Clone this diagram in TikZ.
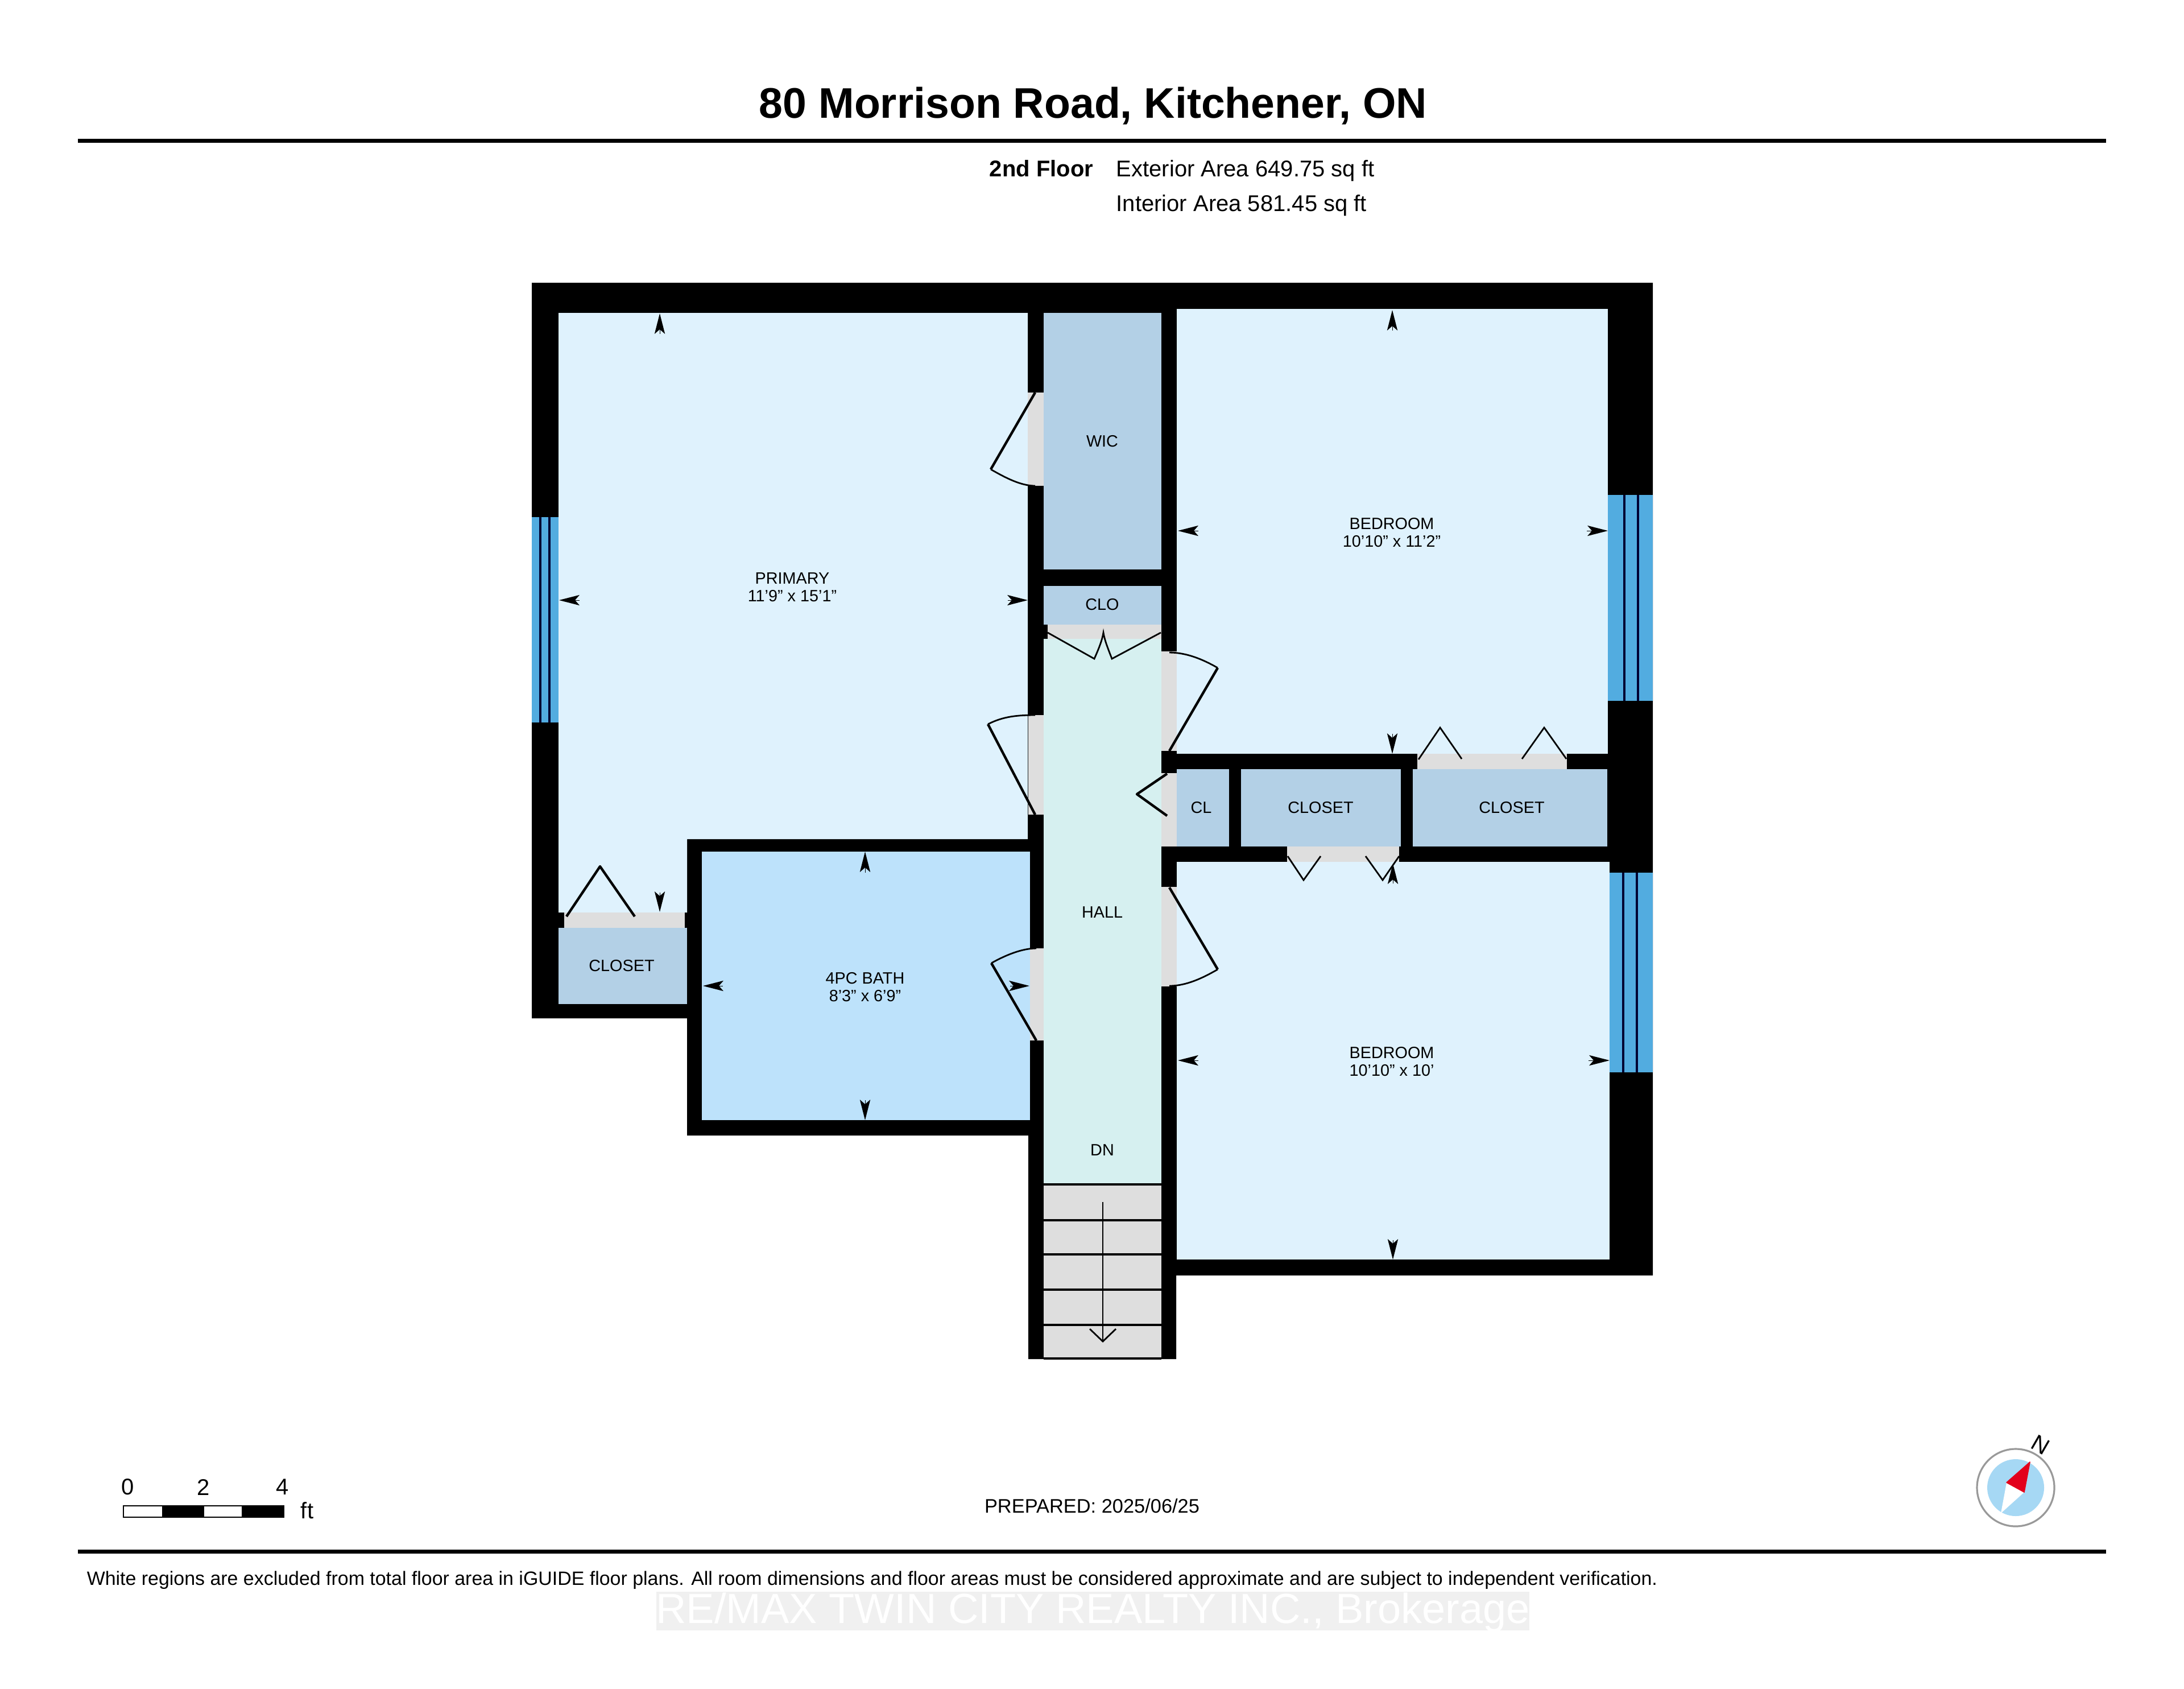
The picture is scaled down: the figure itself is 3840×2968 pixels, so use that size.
\documentclass[tikz,border=0pt]{standalone}
\usepackage{fontspec}
\setmainfont{Liberation Sans}
\usetikzlibrary{arrows.meta}
\definecolor{roomblue}{HTML}{DFF2FD}
\definecolor{closetblue}{HTML}{B3D0E6}
\definecolor{hallgreen}{HTML}{D6F0F0}
\definecolor{bathblue}{HTML}{BDE2FB}
\definecolor{windowblue}{HTML}{52ACE0}
\definecolor{doorgray}{HTML}{DEDEDE}
\definecolor{compassblue}{HTML}{A6D8F4}
\definecolor{compassred}{HTML}{E3001B}
\tikzset{
  roomlabel/.style={inner sep=0pt, align=center, font=\fontsize{7.2}{7.8}\selectfont},
  infolabel/.style={inner sep=0pt, anchor=base west, font=\fontsize{10}{12}\selectfont},
  leaf/.style={line width=1.1pt, line join=round},
  swing/.style={line width=0.7pt},
  glass/.style={line width=1pt, color=black!80!blue},
  dimtip/.style={-{Stealth[length=9pt, width=4.6pt, inset=2pt]}, line width=0pt},
}
\begin{document}
\begin{tikzpicture}[x=0.25pt, y=-0.25pt]
\useasboundingbox (0,0) rectangle (3840,2968);
\fill[white] (0,0) rectangle (3840,2968);

% header
\draw (1922,207) node[inner sep=0pt, anchor=base, font=\fontsize{18.8}{22}\selectfont\bfseries] (title) {80 Morrison Road, Kitchener, ON};
\fill (137,243.5) rectangle (3703,250.5);
\draw (1739,310) node[infolabel, font=\fontsize{10}{12}\selectfont\bfseries] (floorname) {2nd Floor};
\draw (1962,310) node[infolabel] (exterior) {Exterior Area 649.75 sq ft};
\draw (1962,371) node[infolabel] (interior) {Interior Area 581.45 sq ft};

% walls
\fill (935,497) -- (2906,497) -- (2906,2242) -- (2068,2242) -- (2068,2389) -- (1808,2389) -- (1808,1996) -- (1208,1996) -- (1208,1790) -- (935,1790) -- cycle;

% rooms
\fill[roomblue] (982,550) -- (1807,550) -- (1807,1475) -- (1208,1475) -- (1208,1604) -- (982,1604) -- cycle;
\fill[roomblue] (2069,543) rectangle (2827,1325);
\fill[roomblue] (2069,1515) rectangle (2830,2214);
\fill[bathblue] (1234,1497) rectangle (1811,1969);
\fill[hallgreen] (1835,1123) rectangle (2042,2082);
\fill[closetblue] (1835,550) rectangle (2042,1001);
\fill[closetblue] (1835,1030) rectangle (2042,1098);
\fill[closetblue] (982,1631) rectangle (1208,1765);
\fill[closetblue] (2069,1352) rectangle (2161,1488);
\fill[closetblue] (2182,1352) rectangle (2463,1488);
\fill[closetblue] (2484,1352) rectangle (2826,1488);

% windows
\fill[windowblue] (935,909) rectangle (982,1270);
\draw[glass] (950,909) -- (950,1270);
\draw[glass] (966,909) -- (966,1270);
\fill[windowblue] (2827,870) rectangle (2906,1232);
\draw[glass] (2856,870) -- (2856,1232);
\draw[glass] (2880,870) -- (2880,1232);
\fill[windowblue] (2830,1534) rectangle (2906,1885);
\draw[glass] (2854,1534) -- (2854,1885);
\draw[glass] (2878,1534) -- (2878,1885);

% door openings
\fill[doorgray] (1807,690) rectangle (1835,854);
\fill[doorgray] (1808,1257) rectangle (1835,1432);
\fill[doorgray] (1811,1667) rectangle (1835,1829);
\fill[doorgray] (2042,1145) rectangle (2069,1320);
\fill[doorgray] (2042,1359) rectangle (2069,1488);
\fill[doorgray] (2042,1559) rectangle (2069,1734);
\fill[doorgray] (1842,1098) rectangle (2042,1123);
\fill[doorgray] (992,1604) rectangle (1204,1631);
\fill[doorgray] (2492,1325) rectangle (2755,1352);
\fill[doorgray] (2263,1488) rectangle (2460,1515);

% door leaves
\draw[leaf] (1820,690) -- (1742,825);
\draw[swing] (1742,825) .. controls (1768,840) and (1795,854) .. (1820,854);
\draw[leaf] (1820,1432) -- (1737,1273);
\draw[swing] (1737,1273) .. controls (1764,1259) and (1790,1257) .. (1820,1257);
\draw[leaf] (1822,1829) -- (1743,1693);
\draw[swing] (1743,1693) .. controls (1766,1680) and (1796,1667) .. (1822,1667);
\draw[leaf] (2056,1320) -- (2141,1174);
\draw[swing] (2141,1174) .. controls (2115,1159) and (2086,1147) .. (2056,1147);
\draw[leaf] (2056,1560) -- (2141,1704);
\draw[swing] (2141,1704) .. controls (2115,1719) and (2086,1733) .. (2056,1733);
\draw[leaf] (2052,1360) -- (1999,1396) -- (2052,1434);
\draw[swing] (1842,1112) -- (1924,1158) .. controls (1932,1140) and (1938,1125) .. (1940,1112) .. controls (1942,1125) and (1948,1140) .. (1955,1158) -- (2041,1112);
\draw[leaf] (996,1611) -- (1055,1523) -- (1116,1611);
\draw[swing] (2494,1335) -- (2532,1279) -- (2570,1334);
\draw[swing] (2676,1334) -- (2715,1279) -- (2754,1334);
\draw[swing] (2264,1505) -- (2292,1547) -- (2322,1505);
\draw[swing] (2401,1505) -- (2431,1547) -- (2460,1505);

% stairs
\fill[doorgray] (1835,2082) rectangle (2042,2389);
\foreach \stepy in {2082,2145,2205,2267,2329,2388}
  \draw[line width=0.8pt] (1835,\stepy) -- (2042,\stepy);
\draw[swing] (1939,2113) -- (1939,2358);
\draw[swing] (1916,2336) -- (1939,2358) -- (1962,2336);

% dimension tips
\foreach \xa/\ya/\xb/\yb in {1160/586/1160/551, 1160/1569/1160/1603, 1018/1055/983/1055, 1772/1055/1807/1055,
    2448/580/2448/545, 2448/1290/2448/1325, 2106/933/2071/933, 2790/933/2827/933,
    2449/1552/2449/1518, 2449/2180/2449/2214, 2106/1864/2071/1864, 2793/1864/2830/1864,
    1521/1533/1521/1497, 1521/1934/1521/1969, 1270/1733/1236/1733, 1776/1733/1810/1733}
  \draw[dimtip] (\xa,\ya) -- (\xb,\yb);

% room names
\draw (1393,1032) node[roomlabel] (primary) {PRIMARY\\11'9" x 15'1"};
\draw (2447,936) node[roomlabel] (bedroomone) {BEDROOM\\10'10" x 11'2"};
\draw (2447,1866) node[roomlabel] (bedroomtwo) {BEDROOM\\10'10" x 10'};
\draw (1521,1735) node[roomlabel] (bath) {4PC BATH\\8'3" x 6'9"};
\draw (1938,776) node[roomlabel] (wic) {WIC};
\draw (1938,1063) node[roomlabel] (clo) {CLO};
\draw (1938,1604) node[roomlabel] (hall) {HALL};
\draw (1938,2022) node[roomlabel] (dn) {DN};
\draw (2112,1420) node[roomlabel] (cl) {CL};
\draw (2322,1420) node[roomlabel] (closetone) {CLOSET};
\draw (2658,1420) node[roomlabel] (closettwo) {CLOSET};
\draw (1093,1698) node[roomlabel] (closetthree) {CLOSET};

% scale bar
\draw[line width=0.6pt, fill=white] (217,2647) rectangle (499,2667);
\fill (285,2647) rectangle (359,2667);
\fill (425,2647) rectangle (499,2667);
\draw (225,2614) node[infolabel, anchor=center] (scalezero) {0};
\draw (358,2614) node[infolabel, anchor=center] (scaletwo) {2};
\draw (497,2614) node[infolabel, anchor=center] (scalefour) {4};
\draw (540,2655) node[infolabel, anchor=center] (scaleunit) {ft};

% prepared date
\draw (1920,2647) node[infolabel, anchor=center, font=\fontsize{8.6}{10}\selectfont] (prepared) {PREPARED: 2025/06/25};

% compass
\draw[color=black!40, line width=0.8pt, fill=white] (3544,2615) circle (68);
\fill[compassblue] (3544,2615) circle (50);
\fill[white] (3528,2606) -- (3559,2623) -- (3518,2660) -- cycle;
\draw[color=compassred, fill=compassred, line join=round] (3569,2570) -- (3528,2606) -- (3559,2623) -- cycle;
\draw (3588,2540) node[inner sep=0pt, rotate=-30, font=\fontsize{10}{12}\selectfont] (north) {N};

% footer
\fill (137,2723.5) rectangle (3703,2730.5);
\draw (152,2786) node[infolabel, font=\fontsize{8.48}{10}\selectfont] (disclaimer) {White regions are excluded from total floor area in iGUIDE floor plans. All room dimensions and floor areas must be considered approximate and are subject to independent verification.};
\fill[black!6] (1154,2798) rectangle (2689,2866);
\draw (1921.5,2853) node[inner sep=0pt, anchor=base, text=white, font=\fontsize{18.5}{20}\selectfont] (brokerage) {RE/MAX TWIN CITY REALTY INC., Brokerage};
\end{tikzpicture}
\end{document}
